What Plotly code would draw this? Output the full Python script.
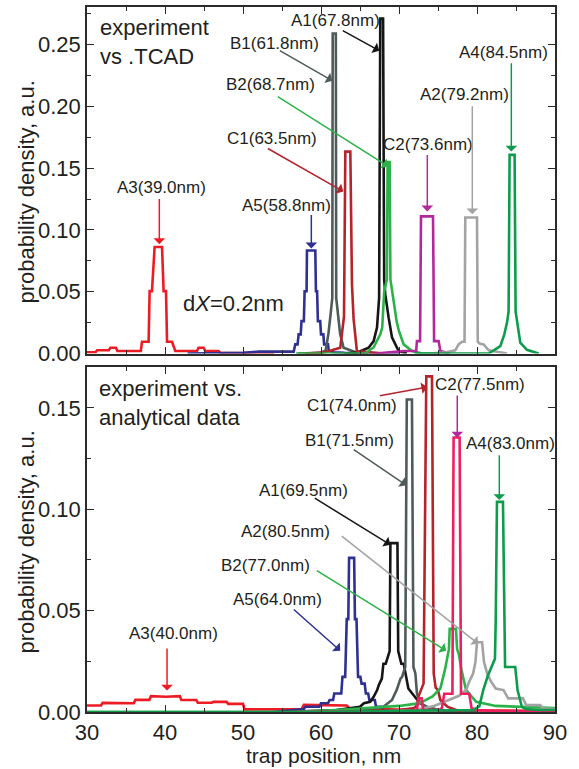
import plotly.graph_objects as go

# ---------------- data: top panel (experiment vs TCAD) ----------------
top_A3_x = [30.0, 31.1, 31.3, 32.8, 33.0, 33.7, 33.9, 36.9, 37.05, 37.9, 38.03, 38.33, 38.67, 39.62, 39.82, 40.13, 40.26, 40.9, 41.32, 44.1, 44.3, 44.95, 45.17, 46.87, 47.1, 54.0]
top_A3_y = [0.001, 0.001, 0.0026, 0.0026, 0.0047, 0.0047, 0.002, 0.002, 0.0095, 0.0095, 0.0505, 0.0505, 0.0862, 0.0862, 0.0505, 0.0505, 0.0095, 0.0095, 0.002, 0.002, 0.0047, 0.0047, 0.002, 0.002, 0.0005, 0.0]

top_A5_x = [42.9, 50.0, 52.0, 55.3, 56.5, 56.7, 57.0, 57.13, 57.4, 57.5, 57.8, 57.9, 58.15, 58.2, 59.27, 59.35, 59.5, 59.6, 59.9, 60.0, 60.3, 60.4, 60.9, 61.0, 61.6, 63.0, 70.0]
top_A5_y = [0.0, 0.0005, 0.0015, 0.0015, 0.0015, 0.0074, 0.0074, 0.0155, 0.0155, 0.0262, 0.0262, 0.0504, 0.0504, 0.0833, 0.0833, 0.0504, 0.0504, 0.0262, 0.0262, 0.0155, 0.0155, 0.0074, 0.0074, 0.002, 0.001, 0.0005, 0.0]

top_B1_x = [57.0, 59.9, 60.6, 60.95, 61.2, 61.45, 61.5, 61.9, 61.95, 62.2, 62.45, 62.9, 64.6, 66.0]
top_B1_y = [0.0, 0.0005, 0.0025, 0.016, 0.03, 0.045, 0.259, 0.259, 0.045, 0.03, 0.016, 0.0047, 0.0007, 0.0]

top_A1_x = [63.0, 64.6, 66.1, 66.75, 67.18, 67.45, 67.6, 67.96, 68.1, 68.24, 68.67, 69.1, 69.95, 71.0]
top_A1_y = [0.0, 0.0007, 0.0047, 0.010, 0.021, 0.045, 0.271, 0.271, 0.06, 0.048, 0.029, 0.013, 0.002, 0.0]

top_C1_x = [58.0, 60.3, 62.47, 62.85, 62.95, 63.12, 63.76, 63.97, 64.18, 64.6, 66.96, 68.0]
top_C1_y = [0.0, 0.0007, 0.0047, 0.026, 0.03, 0.1634, 0.1634, 0.056, 0.028, 0.002, 0.001, 0.0]

top_B2_x = [56.8, 60.3, 65.7, 66.3, 66.75, 67.6, 67.85, 68.1, 68.45, 68.54, 68.8, 68.9, 69.3, 69.7, 70.0, 70.6, 71.67, 73.0, 75.0]
top_B2_y = [0.0, 0.0, 0.0, 0.003, 0.005, 0.0155, 0.021, 0.05, 0.06, 0.155, 0.155, 0.06, 0.042, 0.026, 0.018, 0.0074, 0.002, 0.0, 0.0]

top_C2_x = [67.0, 70.6, 72.2, 72.3, 72.7, 72.82, 74.36, 74.5, 75.08, 75.3, 76.5]
top_C2_y = [0.0, 0.002, 0.002, 0.010, 0.010, 0.111, 0.111, 0.010, 0.010, 0.002, 0.0]

top_A2_x = [74.0, 76.0, 77.22, 77.64, 78.08, 78.4, 78.5, 80.0, 80.1, 80.33, 80.85, 81.5, 83.85]
top_A2_y = [0.0, 0.001, 0.0026, 0.0074, 0.0095, 0.0095, 0.110, 0.110, 0.0095, 0.008, 0.0074, 0.0026, 0.0]

top_A4_x = [72.0, 78.0, 81.5, 82.99, 83.5, 83.85, 84.05, 84.18, 84.82, 84.95, 85.13, 85.55, 86.4, 87.9]
top_A4_y = [0.0, 0.0, 0.0, 0.006, 0.0155, 0.025, 0.034, 0.1607, 0.1607, 0.034, 0.026, 0.0087, 0.003, 0.0]

# ---------------- data: bottom panel (experiment vs analytical) ----------------
bot_A3_x = [30.0, 31.8, 32.0, 34.0, 34.2, 36.0, 36.2, 38.0, 38.2, 39.9, 40.1, 41.9, 42.1, 44.0, 44.2, 46.0, 46.2, 47.9, 48.1, 50.0, 50.2, 57.5, 57.8, 63.3, 63.6, 72.0, 90.0]
bot_A3_y = [0.0032, 0.0032, 0.0045, 0.0045, 0.0043, 0.0043, 0.006, 0.006, 0.0078, 0.0075, 0.0075, 0.0078, 0.0059, 0.0059, 0.0046, 0.0046, 0.005, 0.005, 0.004, 0.004, 0.0013, 0.0013, 0.0035, 0.0032, 0.002, 0.001, 0.0005]

bot_A5_x = [54.0, 57.8, 58.0, 59.8, 60.0, 60.9, 61.1, 61.55, 61.7, 62.6, 62.75, 63.1, 63.3, 63.5, 63.6, 64.25, 64.35, 64.55, 64.75, 65.05, 65.2, 65.6, 65.75, 66.05, 66.2, 66.9, 67.05, 67.8, 68.0, 72.0]
bot_A5_y = [0.0, 0.0015, 0.0026, 0.0026, 0.0043, 0.0043, 0.0059, 0.0059, 0.0091, 0.0091, 0.0173, 0.0173, 0.0458, 0.0458, 0.076, 0.076, 0.0458, 0.0458, 0.0173, 0.0173, 0.014, 0.014, 0.0091, 0.0091, 0.0059, 0.0059, 0.0026, 0.0026, 0.001, 0.0]

bot_A1_x = [55.0, 62.0, 65.0, 65.5, 66.3, 66.75, 67.2, 67.4, 67.8, 68.0, 68.3, 68.8, 68.9, 69.8, 69.9, 70.3, 70.6, 71.2, 71.7, 72.0, 72.7, 73.5, 75.0, 80.0]
bot_A1_y = [0.0, 0.001, 0.0026, 0.0043, 0.005, 0.0075, 0.0108, 0.0132, 0.0165, 0.0238, 0.0238, 0.03, 0.0833, 0.0833, 0.03, 0.0238, 0.0238, 0.0116, 0.0091, 0.0075, 0.0043, 0.0026, 0.001, 0.0]

bot_B1_x = [60.0, 66.0, 68.0, 69.1, 69.7, 70.2, 70.4, 70.8, 71.0, 71.66, 71.85, 72.1, 72.3, 72.7, 73.5, 75.0, 80.0]
bot_B1_y = [0.0, 0.001, 0.0026, 0.0059, 0.0108, 0.0165, 0.0173, 0.0222, 0.1541, 0.1541, 0.0222, 0.019, 0.0091, 0.0043, 0.0026, 0.001, 0.0]

bot_C1_x = [62.0, 70.0, 72.0, 72.3, 72.5, 72.9, 73.15, 73.5, 74.23, 74.45, 74.7, 75.0, 75.3, 76.2, 78.0]
bot_C1_y = [0.0, 0.001, 0.002, 0.0034, 0.0077, 0.012, 0.014, 0.1655, 0.1655, 0.019, 0.012, 0.0108, 0.0059, 0.0026, 0.0]

bot_B2_x = [30.0, 56.0, 62.0, 66.0, 70.0, 72.0, 73.0, 74.3, 75.3, 75.9, 76.2, 76.4, 76.5, 77.3, 77.45, 77.7, 78.0, 78.6, 79.9, 82.4, 90.0]
bot_B2_y = [0.0, 0.0, 0.001, 0.002, 0.003, 0.004, 0.005, 0.0077, 0.0116, 0.021, 0.028, 0.031, 0.041, 0.041, 0.031, 0.028, 0.021, 0.0108, 0.005, 0.003, 0.002]

bot_C2_x = [55.8, 70.0, 72.3, 72.5, 72.9, 73.1, 75.2, 75.5, 75.8, 76.85, 77.0, 77.77, 77.95, 79.0, 79.3, 79.8, 82.0, 90.0]
bot_C2_y = [0.0, 0.0005, 0.001, 0.0067, 0.0067, 0.001, 0.001, 0.002, 0.009, 0.009, 0.1354, 0.1354, 0.009, 0.009, 0.002, 0.001, 0.0005, 0.0]

bot_A2_x = [66.0, 72.0, 74.5, 76.5, 77.7, 78.6, 79.0, 79.5, 79.8, 80.0, 80.65, 80.9, 81.3, 81.8, 82.4, 83.4, 84.0, 85.9, 86.3, 88.1, 88.5, 90.0]
bot_A2_y = [0.0, 0.001, 0.003, 0.006, 0.008, 0.0108, 0.015, 0.019, 0.0246, 0.0344, 0.0344, 0.0246, 0.019, 0.015, 0.0116, 0.0108, 0.0067, 0.0067, 0.0034, 0.0034, 0.0018, 0.0015]

bot_A4_x = [30.0, 60.0, 75.0, 79.5, 80.3, 80.8, 81.4, 81.9, 82.3, 82.4, 82.56, 83.33, 83.5, 83.6, 84.9, 85.2, 85.75, 86.2, 88.0, 90.0]
bot_A4_y = [0.0, 0.0, 0.0008, 0.001, 0.0028, 0.0108, 0.018, 0.0222, 0.0262, 0.045, 0.1036, 0.1036, 0.045, 0.0222, 0.0222, 0.0108, 0.0026, 0.0015, 0.001, 0.001]

# labels
top_labels = ["A3(39.0nm)", "A5(58.8nm)", "C1(63.5nm)", "B2(68.7nm)", "B1(61.8nm)", "A1(67.8nm)", "C2(73.6nm)", "A2(79.2nm)", "A4(84.5nm)"]
bot_labels = ["A3(40.0nm)", "A5(64.0nm)", "B2(77.0nm)", "A2(80.5nm)", "A1(69.5nm)", "B1(71.5nm)", "C1(74.0nm)", "C2(77.5nm)", "A4(83.0nm)"]

RED = "#ed1c24"; NAVY = "#2e3192"; SLATE = "#4f5b5b"; DRED = "#b5232b"; BLACK = "#151515"
LGREEN = "#2bb34a"; MAG = "#b3289a"; GRAY = "#a3a3a3"; DGREEN = "#0e9c4c"; PINK = "#ed1f61"

top_label_pos = [  # text x, text y, arrow tail x, tail y, head x, head y, colour
    (39.53, 0.1344, 39.27, 0.1263, 39.27, 0.0885, RED),
    (55.62, 0.1199, 58.76, 0.1132, 58.76, 0.0850, NAVY),
    (53.76, 0.1739, 52.99, 0.1666, 62.86, 0.1311, DRED),
    (53.50, 0.2175, 54.27, 0.2086, 68.63, 0.1513, LGREEN),
    (54.08, 0.2506, 54.53, 0.2458, 61.45, 0.2207, SLATE),
    (61.90, 0.2692, 62.60, 0.2619, 67.47, 0.2450, BLACK),
    (73.69, 0.1691, 73.63, 0.1618, 73.63, 0.1150, MAG),
    (78.37, 0.2094, 79.40, 0.2014, 79.40, 0.1126, GRAY),
    (83.44, 0.2433, 84.40, 0.2361, 84.40, 0.1634, DGREEN),
]
bot_label_pos = [
    (41.13, 0.0385, 40.26, 0.0321, 40.26, 0.0106, RED),
    (54.46, 0.0556, 56.32, 0.0512, 62.47, 0.0302, NAVY),
    (52.92, 0.0722, 59.27, 0.0702, 76.06, 0.0302, LGREEN),
    (55.42, 0.0888, 62.47, 0.0873, 80.17, 0.0336, GRAY),
    (57.79, 0.1093, 59.01, 0.1059, 68.88, 0.0825, BLACK),
    (63.69, 0.1338, 64.01, 0.1299, 70.94, 0.1118, SLATE),
    (64.01, 0.1509, 67.35, 0.1558, 73.63, 0.1602, DRED),
    (80.42, 0.1616, 77.47, 0.1568, 77.47, 0.1353, MAG),
    (84.27, 0.1323, 82.86, 0.1274, 82.86, 0.1045, DGREEN),
]

FONT = "Liberation Sans, Arial, sans-serif"
TXT = "#231f20"

fig = go.Figure()

def add(x, y, color, xa, ya):
    fig.add_trace(go.Scatter(x=x, y=y, mode="lines", line=dict(color=color, width=2.6),
                             xaxis=xa, yaxis=ya, showlegend=False, hoverinfo="skip"))

for x, y, c in [(top_A3_x, top_A3_y, RED), (top_A5_x, top_A5_y, NAVY), (top_B1_x, top_B1_y, SLATE),
                (top_A1_x, top_A1_y, BLACK), (top_C1_x, top_C1_y, DRED), (top_B2_x, top_B2_y, LGREEN),
                (top_C2_x, top_C2_y, MAG), (top_A2_x, top_A2_y, GRAY), (top_A4_x, top_A4_y, DGREEN)]:
    add(x, y, c, "x", "y")

for x, y, c in [(bot_A3_x, bot_A3_y, RED), (bot_A5_x, bot_A5_y, NAVY), (bot_A1_x, bot_A1_y, BLACK),
                (bot_B1_x, bot_B1_y, SLATE), (bot_C1_x, bot_C1_y, DRED), (bot_B2_x, bot_B2_y, LGREEN),
                (bot_A2_x, bot_A2_y, GRAY), (bot_C2_x, bot_C2_y, PINK), (bot_A4_x, bot_A4_y, DGREEN)]:
    add(x, y, c, "x2", "y2")

ann = []
def labels(names, pos, xr, yr):
    for name, (tx, ty, ax, ay, hx, hy, col) in zip(names, pos):
        ann.append(dict(x=hx, y=hy, ax=ax, ay=ay, xref=xr, yref=yr, axref=xr, ayref=yr,
                        text="", showarrow=True, arrowhead=1, arrowsize=1.3, arrowwidth=1.5,
                        arrowcolor=col, standoff=0, startstandoff=0))
        ann.append(dict(x=tx, y=ty, xref=xr, yref=yr, text=name, showarrow=False,
                        xanchor="center", yanchor="middle",
                        font=dict(family=FONT, size=17, color=TXT)))

labels(top_labels, top_label_pos, "x", "y")
labels(bot_labels, bot_label_pos, "x2", "y2")

ann.append(dict(x=31.45, y=0.2755, xref="x", yref="y", text="experiment<br>vs .TCAD", showarrow=False,
                xanchor="left", yanchor="top", align="left", font=dict(family=FONT, size=22, color=TXT)))
ann.append(dict(x=42.0, y=0.0407, xref="x", yref="y", text="d<i>X</i>=0.2nm", showarrow=False,
                xanchor="left", yanchor="middle", font=dict(family=FONT, size=22, color=TXT)))
ann.append(dict(x=31.3, y=0.1665, xref="x2", yref="y2", text="experiment vs.<br>analytical data", showarrow=False,
                xanchor="left", yanchor="top", align="left", font=dict(family=FONT, size=22, color=TXT)))
# axis titles
ann.append(dict(x=-0.130, y=0.737, xref="paper", yref="paper", text="probability density, a.u.",
                textangle=-90, showarrow=False, xanchor="center", yanchor="middle",
                font=dict(family=FONT, size=22, color=TXT)))
ann.append(dict(x=-0.130, y=0.2405, xref="paper", yref="paper", text="probability density, a.u.",
                textangle=-90, showarrow=False, xanchor="center", yanchor="middle",
                font=dict(family=FONT, size=22, color=TXT)))
ann.append(dict(x=0.505, y=-0.0792, xref="paper", yref="paper", text="trap position, nm",
                showarrow=False, xanchor="center", yanchor="bottom", borderpad=0,
                font=dict(family=FONT, size=21, color=TXT)))

axcommon = dict(showline=True, linecolor="#2b2b2b", linewidth=1.5, mirror="allticks",
                ticks="inside", ticklen=7, tickwidth=1.3, tickcolor="#2b2b2b",
                showgrid=False, zeroline=False,
                tickfont=dict(family=FONT, size=22, color=TXT))

fig.update_layout(
    width=579, height=769,
    margin=dict(l=87, r=24, t=5, b=57),
    paper_bgcolor="white", plot_bgcolor="white",
    annotations=ann,
    xaxis=dict(domain=[0, 1], anchor="y", range=[30, 90], dtick=10, showticklabels=False,
               minor=dict(ticks="inside", ticklen=4, dtick=5, tickcolor="#2b2b2b"), **axcommon),
    yaxis=dict(domain=[0.5085, 1], anchor="x", range=[0, 0.2804], dtick=0.05, tickformat=".2f",
               minor=dict(ticks="inside", ticklen=4, dtick=0.025, tickcolor="#2b2b2b"), **axcommon),
    xaxis2=dict(domain=[0, 1], anchor="y2", range=[30, 90], dtick=10, ticklabelstandoff=0,
                minor=dict(ticks="inside", ticklen=4, dtick=5, tickcolor="#2b2b2b"), **axcommon),
    yaxis2=dict(domain=[0, 0.4890], anchor="x2", range=[0, 0.17], dtick=0.05, tickformat=".2f",
                minor=dict(ticks="inside", ticklen=4, dtick=0.025, tickcolor="#2b2b2b"), **axcommon),
)

fig.write_html("out.html", config={"displayModeBar": False},
               post_script="document.body.style.margin='0';document.body.style.padding='0';")
